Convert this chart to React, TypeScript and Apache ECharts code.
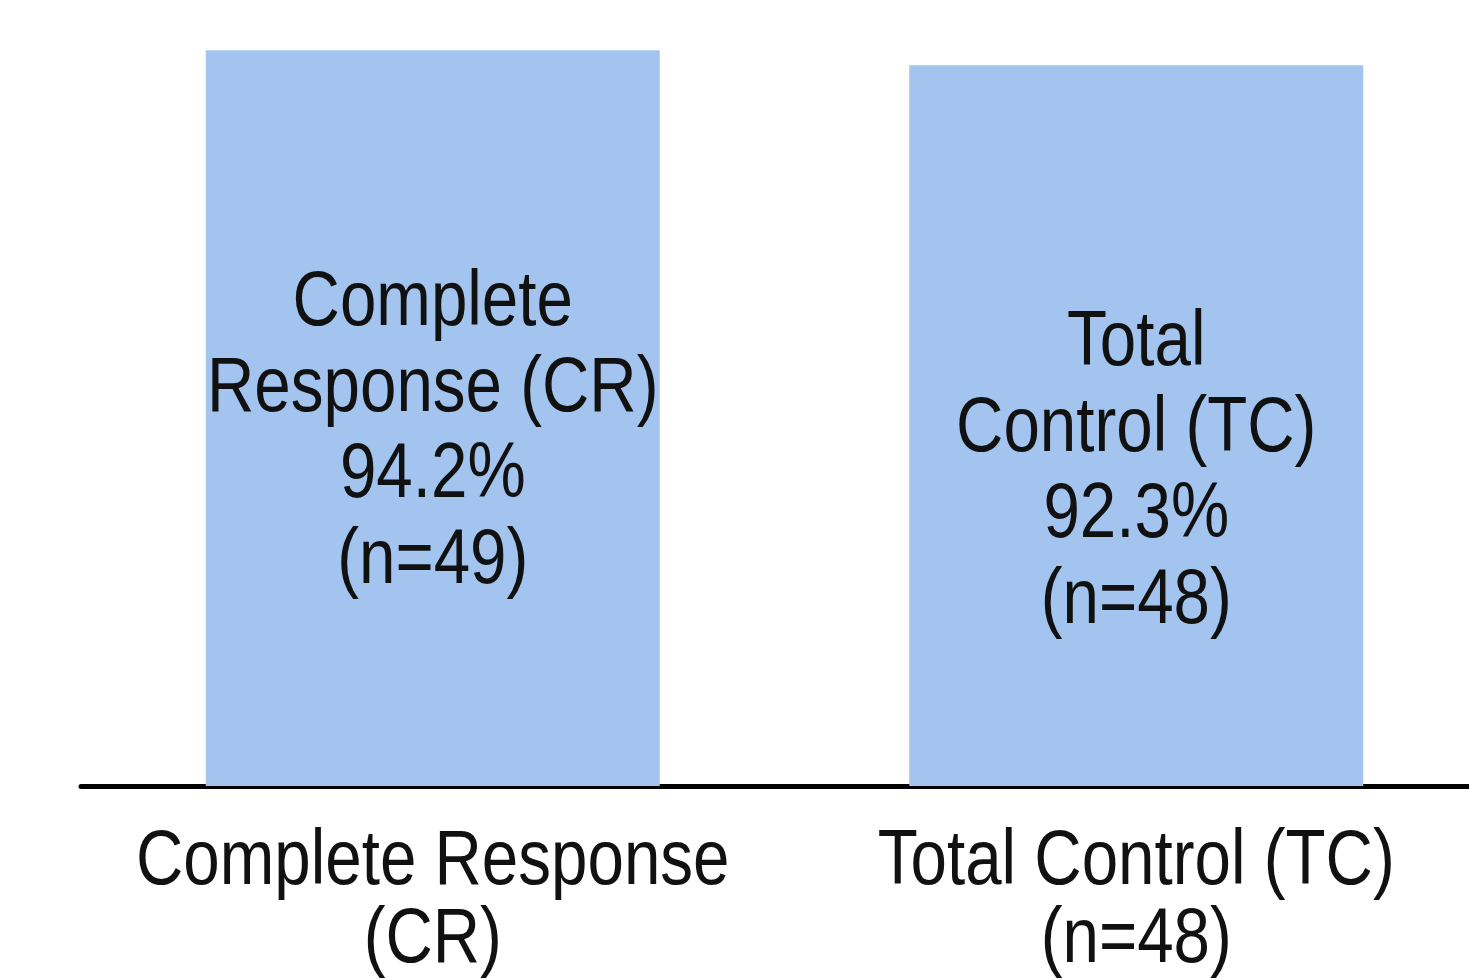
import React, { useEffect, useRef } from "react";
import * as echarts from "echarts";

const categories = ["Complete Response\n(CR)", "Total Control (TC)\n(n=48)"];
const values = [94.2, 92.3];
const barLabels = ["Complete\nResponse (CR)\n94.2%\n(n=49)", "Total\nControl (TC)\n92.3%\n(n=48)"];
const labelShift = [9, 41];

const FONT = "'Liberation Sans', Arial, sans-serif";
const NARROW = 0.84;

export default function App() {
  const ref = useRef<HTMLDivElement>(null);
  useEffect(() => {
    if (!ref.current) return;
    const chart = echarts.init(ref.current, null, { renderer: "svg" });
    chart.setOption({
      animation: false,
      backgroundColor: "#ffffff",
      grid: { left: 81, right: 0, top: 5, bottom: 194, containLabel: false },
      xAxis: {
        type: "category",
        data: categories,
        axisLine: { show: true, lineStyle: { color: "#000", width: 5 } },
        axisTick: { show: false },
        axisLabel: { show: false },
      },
      yAxis: {
        type: "value",
        min: 0,
        max: 100,
        show: false,
        splitLine: { show: false },
      },
      series: [
        {
          type: "bar",
          barWidth: 454,
          data: values,
          itemStyle: { color: "#a2c4ee" },
        },
      ],
    });

    const base = chart.convertToPixel({ yAxisIndex: 0 }, 0) as number;
    const elements: any[] = [];
    categories.forEach((cat, i) => {
      const cx = chart.convertToPixel({ xAxisIndex: 0 }, i) as number;
      const top = chart.convertToPixel({ yAxisIndex: 0 }, values[i]) as number;
      elements.push({
        type: "text",
        x: cx,
        y: (top + base) / 2 + labelShift[i],
        scaleX: NARROW,
        z: 10,
        style: {
          text: barLabels[i],
          fontFamily: FONT,
          fontSize: 78,
          lineHeight: 86,
          fill: "#111",
          align: "center",
          verticalAlign: "middle",
        },
      });
      elements.push({
        type: "text",
        x: cx,
        y: base + 110,
        scaleX: NARROW,
        z: 10,
        style: {
          text: cat,
          fontFamily: FONT,
          fontSize: 78,
          lineHeight: 78,
          fill: "#111",
          align: "center",
          verticalAlign: "middle",
        },
      });
    });
    chart.setOption({ graphic: elements });
    return () => chart.dispose();
  }, []);
  return (
    <div
      ref={ref}
      style={{ position: "fixed", left: 0, top: 0, width: 1488, height: 980 }}
    />
  );
}
